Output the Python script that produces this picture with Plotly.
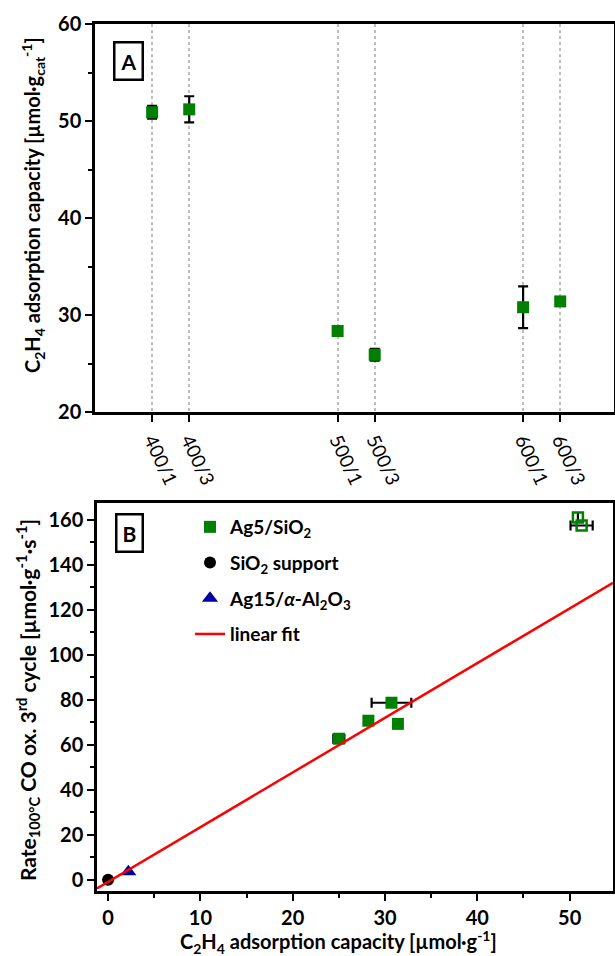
import plotly.graph_objects as go

# ---------------- data: panel A ----------------
cond_labels = ["400/1", "400/3", "500/1", "500/3", "600/1", "600/3"]
cond_pos = [1, 2, 6, 7, 11, 12]
cap_a = [50.9, 51.2, 28.35, 25.9, 30.8, 31.4]
cap_a_err = [0.65, 1.35, 0.25, 0.6, 2.15, 0.25]

# ---------------- data: panel B ----------------
ag5_x = [25.0, 28.2, 30.7, 31.4]
ag5_y = [62.7, 70.7, 78.7, 69.3]
ag5_xerr = [0.6, 0.0, 2.15, 0.3]
ag5_open_x = [50.9, 51.3]
ag5_open_y = [161.0, 157.5]
ag5_open_xerr = [0.0, 1.2]
sio2_x = [0.0]
sio2_y = [0.0]
al2o3_x = [2.2]
al2o3_y = [3.6]
fit_slope = 2.43
fit_intercept = -0.9
fit_x = [-1.2, 54.7]
fit_y = [fit_intercept + fit_slope * v for v in fit_x]

W, H = 615, 956
FONT = "Lato"
GREEN = "#008000"

def px_x(p):
    return p / W

def px_y(p):
    return 1 - p / H

fig = go.Figure()

# Panel A
fig.add_trace(go.Scatter(
    x=cond_pos, y=cap_a, mode="markers",
    marker=dict(symbol="square", size=12, color=GREEN),
    error_y=dict(type="data", array=cap_a_err, color="black", thickness=2.2, width=5),
    xaxis="x", yaxis="y", showlegend=False))

# Panel B
fig.add_trace(go.Scatter(
    x=ag5_x, y=ag5_y, mode="markers", name="Ag5/SiO<sub>2</sub>",
    marker=dict(symbol="square", size=12, color=GREEN),
    error_x=dict(type="data", array=ag5_xerr, color="black", thickness=2.2, width=5),
    xaxis="x2", yaxis="y2", legendgroup="a"))
fig.add_trace(go.Scatter(
    x=ag5_open_x, y=ag5_open_y, mode="markers",
    marker=dict(symbol="square-open", size=10, color=GREEN, line=dict(width=2.5, color=GREEN)),
    error_x=dict(type="data", array=ag5_open_xerr, color="black", thickness=2.2, width=5),
    xaxis="x2", yaxis="y2", showlegend=False, legendgroup="a"))
fig.add_trace(go.Scatter(
    x=sio2_x, y=sio2_y, mode="markers", name="SiO<sub>2</sub> support",
    marker=dict(symbol="circle", size=12, color="black"),
    xaxis="x2", yaxis="y2", legendgroup="b"))
fig.add_trace(go.Scatter(
    x=al2o3_x, y=al2o3_y, mode="markers", name="Ag15/<i>α</i>-Al<sub>2</sub>O<sub>3</sub>",
    marker=dict(symbol="triangle-up", size=14, color="#0000a0"),
    xaxis="x2", yaxis="y2", legendgroup="c"))
fig.add_trace(go.Scatter(
    x=fit_x, y=fit_y, mode="lines", name="linear fit",
    line=dict(color="red", width=2.5),
    xaxis="x2", yaxis="y2", legendgroup="d"))

axis_common = dict(showline=True, linecolor="black", linewidth=2.5, mirror=True,
                   ticks="outside", ticklen=7, tickwidth=2, tickcolor="black",
                   zeroline=False)

def ann(text, x, y, size=18, angle=0, **kw):
    return dict(text=text, x=px_x(x), y=px_y(y), xref="paper", yref="paper",
                xanchor="center", yanchor="middle", textangle=angle,
                showarrow=False, font=dict(size=size, family=FONT), **kw)

fig.update_layout(
    width=W, height=H,
    margin=dict(l=0, r=0, t=0, b=0, autoexpand=False),
    paper_bgcolor="white", plot_bgcolor="white",
    font=dict(family=FONT, color="black", size=16),
    xaxis=dict(domain=[px_x(95), px_x(614)], anchor="y",
               range=[-0.54, 13.45],
               tickvals=cond_pos, ticktext=cond_labels, tickangle=65,
               tickfont=dict(size=19, family=FONT),
               showgrid=True, gridcolor="#bdbdbd", griddash="dot", gridwidth=2,
               **axis_common),
    yaxis=dict(domain=[px_y(412), px_y(24)], anchor="x",
               range=[20, 60], dtick=10, showgrid=False,
               tickfont=dict(size=20, family=FONT, weight="bold"),
               minor=dict(ticks="outside", ticklen=4, tickwidth=2, tickcolor="black", dtick=5),
               **axis_common),
    xaxis2=dict(domain=[px_x(97), px_x(613)], anchor="y2",
                range=[-1.2, 54.7], dtick=10, showgrid=False,
                tickfont=dict(size=20, family=FONT, weight="bold"),
                minor=dict(ticks="outside", ticklen=4, tickwidth=2, tickcolor="black", dtick=5),
                **axis_common),
    yaxis2=dict(domain=[px_y(891), px_y(503)], anchor="x2",
                range=[-5, 167.5], dtick=20, showgrid=False,
                tickfont=dict(size=20, family=FONT, weight="bold"),
                minor=dict(ticks="outside", ticklen=4, tickwidth=2, tickcolor="black", dtick=10),
                **axis_common),
    legend=dict(x=px_x(190), y=px_y(508), xanchor="left", yanchor="top",
                bgcolor="rgba(0,0,0,0)", font=dict(size=19, family=FONT, weight="bold"),
                tracegroupgap=8, itemwidth=30),
    annotations=[
        ann("<b>C<sub>2</sub>H<sub>4</sub> adsorption capacity [µmol·g<sub>cat</sub><sup>-1</sup>]</b>",
            33, 205, size=20, angle=-90),
        ann("<b>Rate<sub>100°C</sub> CO ox. 3<sup>rd</sup> cycle [µmol·g<sup>-1</sup>·s<sup>-1</sup>]</b>",
            27, 700, size=21, angle=-90),
        ann("<b>C<sub>2</sub>H<sub>4</sub> adsorption capacity [µmol·g<sup>-1</sup>]</b>",
            338, 942, size=20),
        ann("<b>A</b>", 128, 61, size=21, bordercolor="black", borderwidth=2.5, borderpad=5),
        ann("<b>B</b>", 129, 533, size=21, bordercolor="black", borderwidth=2.5, borderpad=5),
    ],
)

fig.write_html("out.html")
